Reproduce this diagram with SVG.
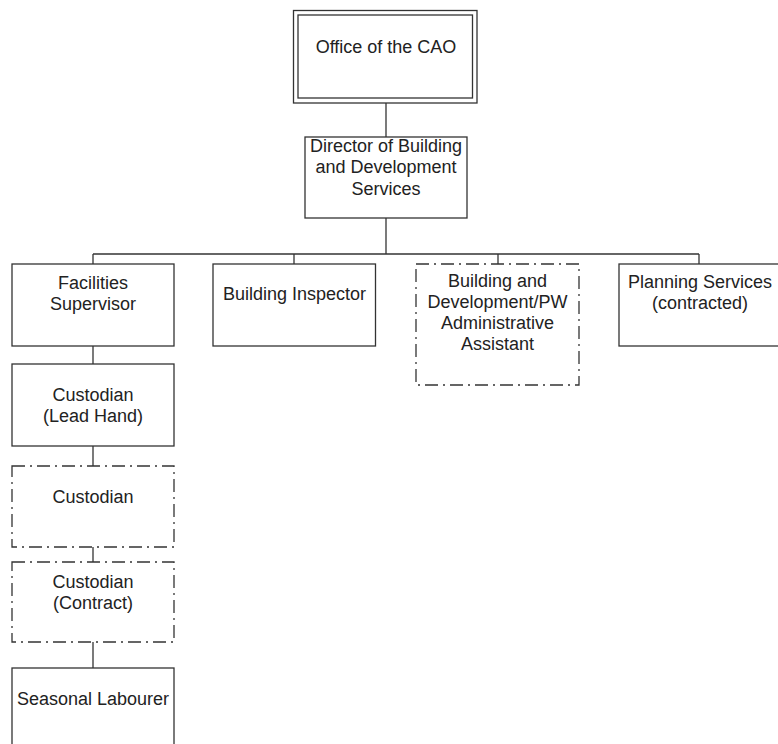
<svg xmlns="http://www.w3.org/2000/svg" width="778" height="744" viewBox="0 0 778 744">
  <style>
    .box { fill: #ffffff; stroke: #333333; stroke-width: 1.3; }
    .dash { fill: #ffffff; stroke: #333333; stroke-width: 1.3; stroke-dasharray: 13 5 2 5; }
    .wire { fill: none; stroke: #333333; stroke-width: 1.3; }
    text { font-family: "Liberation Sans", Arial, sans-serif; font-size: 18px; fill: #222222; text-anchor: middle; }
  </style>
  <rect width="778" height="744" fill="#ffffff"/>

  <g id="connectors">
    <line class="wire" x1="386" y1="103" x2="386" y2="137"/>
    <line class="wire" x1="386" y1="218" x2="386" y2="254"/>
    <line class="wire" x1="93" y1="254" x2="699" y2="254"/>
    <line class="wire" x1="93" y1="254" x2="93" y2="264"/>
    <line class="wire" x1="294" y1="254" x2="294" y2="264"/>
    <line class="wire" x1="498" y1="254" x2="498" y2="264"/>
    <line class="wire" x1="699" y1="254" x2="699" y2="264"/>
    <line class="wire" x1="93" y1="346" x2="93" y2="364"/>
    <line class="wire" x1="93" y1="446" x2="93" y2="466"/>
    <line class="wire" x1="93" y1="547" x2="93" y2="562"/>
    <line class="wire" x1="93" y1="642" x2="93" y2="668"/>
  </g>

  <g id="cao">
    <rect class="box" x="293.5" y="10.5" width="183.5" height="92.5"/>
    <rect class="box" x="298" y="15" width="174.5" height="83"/>
    <text x="386" y="52.5">Office of the CAO</text>
  </g>

  <g id="director">
    <rect class="box" x="305" y="137" width="162" height="81"/>
    <text x="386" y="151.5">Director of Building</text>
    <text x="386" y="173">and Development</text>
    <text x="386" y="195">Services</text>
  </g>

  <g id="facilities-supervisor">
    <rect class="box" x="12" y="264" width="162" height="82"/>
    <text x="93" y="289">Facilities</text>
    <text x="93" y="309.5">Supervisor</text>
  </g>

  <g id="building-inspector">
    <rect class="box" x="213" y="264" width="162.5" height="82"/>
    <text x="294.5" y="299.5">Building Inspector</text>
  </g>

  <g id="admin-assistant">
    <rect class="dash" x="416" y="264" width="163" height="121"/>
    <text x="497.5" y="287">Building and</text>
    <text x="497.5" y="307.5">Development/PW</text>
    <text x="497.5" y="328.5">Administrative</text>
    <text x="497.5" y="350">Assistant</text>
  </g>

  <g id="planning-services">
    <rect class="box" x="619" y="264" width="170" height="82"/>
    <text x="700" y="288">Planning Services</text>
    <text x="700" y="309">(contracted)</text>
  </g>

  <g id="custodian-lead">
    <rect class="box" x="12" y="364" width="162" height="82"/>
    <text x="93" y="401">Custodian</text>
    <text x="93" y="421.5">(Lead Hand)</text>
  </g>

  <g id="custodian">
    <rect class="dash" x="12" y="466" width="162" height="81"/>
    <text x="93" y="502.5">Custodian</text>
  </g>

  <g id="custodian-contract">
    <rect class="dash" x="12" y="562" width="162" height="80"/>
    <text x="93" y="588">Custodian</text>
    <text x="93" y="609">(Contract)</text>
  </g>

  <g id="seasonal-labourer">
    <rect class="box" x="12" y="668" width="162" height="90"/>
    <text x="93" y="705">Seasonal Labourer</text>
  </g>
</svg>
